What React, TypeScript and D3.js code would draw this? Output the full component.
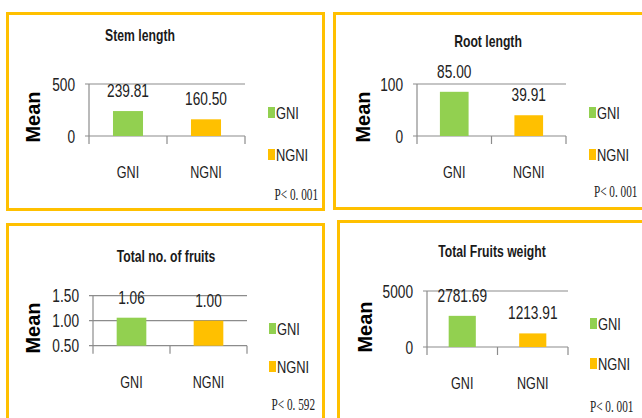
import React from "react";
import * as d3 from "d3";

const panelTitles = ["Stem length", "Root length", "Total no. of fruits", "Total Fruits weight"];
const categories = ["GNI", "NGNI"];
const gniValues = [239.81, 85.0, 1.06, 2781.69];
const ngniValues = [160.5, 39.91, 1.0, 1213.91];
const yTickValues = [[0, 500], [0, 100], [0.5, 1.0, 1.5], [0, 5000]];
const yTickDecimals = [0, 0, 2, 0];
const pLabels = ["P< 0. 001", "P< 0. 001", "P< 0. 592", "P< 0. 001"];

const colors = ["#92D050", "#FFC000"];
const BORDER = "#FFC000";
const GRID = "#8C8C8C";
const SANS = "'Liberation Sans', Arial, sans-serif";
const SERIF = "'Liberation Serif', 'Times New Roman', serif";

// layout per panel (pixel geometry only)
const layouts = [
  { bx: 7.5, by: 13.5, bw: 316, bh: 196, x0: 89, x1: 245, yTop: 84, yBot: 136, titleX: 140, titleY: 41, meanX: 33, meanY: 117, legX: 268, legY: [107, 149], catY: 178, pX: 318, pY: 200, pAnchor: "end" },
  { bx: 334.5, by: 13.5, bw: 320, bh: 195, x0: 417, x1: 566, yTop: 84, yBot: 136, titleX: 488, titleY: 47, meanX: 363, meanY: 117, legX: 589, legY: [107, 149], catY: 178, pX: 594, pY: 197, pAnchor: "start" },
  { bx: 7.5, by: 224.5, bw: 316, bh: 200, x0: 93, x1: 247, yTop: 295.7, yBot: 345.7, titleX: 166, titleY: 262, meanX: 33, meanY: 328, legX: 269, legY: [323, 361], catY: 388, pX: 315, pY: 410, pAnchor: "end" },
  { bx: 338.5, by: 221.5, bw: 320, bh: 200, x0: 427, x1: 568, yTop: 291, yBot: 347, titleX: 492, titleY: 257, meanX: 365, meanY: 327, legX: 590, legY: [318, 358], catY: 389, pX: 590, pY: 412, pAnchor: "start" },
];

function NText({ x, y, sx = 0.75, anchor = "start", size, family = SANS, weight = "normal", fill = "#222", children }: any) {
  return (
    <text transform={`translate(${x},${y}) scale(${sx},1)`} textAnchor={anchor} fontFamily={family} fontWeight={weight} fontSize={size} fill={fill}>
      {children}
    </text>
  );
}

function Panel({ i }: { i: number }) {
  const L = layouts[i];
  const vals = [gniValues[i], ngniValues[i]];
  const ticks = yTickValues[i];
  const y = d3.scaleLinear().domain([d3.min(ticks)!, d3.max(ticks)!]).range([L.yBot, L.yTop]);
  const x = d3.scaleBand<string>().domain(categories).range([L.x0, L.x1]).paddingInner(0.615).paddingOuter(0.3075);
  const fmt = d3.format(`.${yTickDecimals[i]}f`);
  return (
    <g>
      <rect x={L.bx} y={L.by} width={L.bw} height={L.bh} fill="white" stroke={BORDER} strokeWidth={3} />
      <NText x={L.titleX} y={L.titleY} anchor="middle" size={16.5} weight="bold" sx={0.74} fill="#1a1a1a">{panelTitles[i]}</NText>
      {ticks.map((t, k) => (
        <g key={k}>
          <line x1={L.x0 - 4} x2={L.x1} y1={y(t)} y2={y(t)} stroke={GRID} strokeWidth={1.2} />
          <NText x={L.x0 - 14} y={y(t) + 6.6} anchor="end" size={18.5} sx={0.74}>{fmt(t)}</NText>
        </g>
      ))}
      <line x1={L.x0} x2={L.x0} y1={L.yTop} y2={L.yBot} stroke={GRID} strokeWidth={1.2} />
      {[L.x0, (L.x0 + L.x1) / 2, L.x1].map((tx, k) => (
        <line key={k} x1={tx} x2={tx} y1={L.yBot} y2={L.yBot + 8} stroke={GRID} strokeWidth={1.2} />
      ))}
      {categories.map((c, k) => (
        <g key={c}>
          <rect x={x(c)!} y={y(vals[k])} width={x.bandwidth()} height={L.yBot - y(vals[k])} fill={colors[k]} />
          <NText x={x(c)! + x.bandwidth() / 2} y={y(vals[k]) - 14} anchor="middle" size={18.5} sx={0.74}>{vals[k].toFixed(2)}</NText>
          <NText x={x(c)! + x.bandwidth() / 2} y={L.catY} anchor="middle" size={17} sx={0.74}>{c}</NText>
          <rect x={L.legX} y={L.legY[k]} width={7} height={11} fill={colors[k]} />
          <NText x={L.legX + 8} y={L.legY[k] + 11.5} size={16.5} sx={0.78}>{c}</NText>
        </g>
      ))}
      <text transform={`translate(${L.meanX},${L.meanY}) rotate(-90)`} textAnchor="middle" dy="0.35em" fontFamily={SANS} fontWeight="bold" fontSize={20} fill="#000">Mean</text>
      <NText x={L.pX} y={L.pY} anchor={L.pAnchor} family={SERIF} size={17} sx={0.66}>{pLabels[i]}</NText>
    </g>
  );
}

export default function App() {
  return (
    <svg width={642} height={418} style={{ position: "absolute", left: 0, top: 0, background: "white" }}>
      {[0, 1, 2, 3].map((i) => <Panel key={i} i={i} />)}
    </svg>
  );
}
